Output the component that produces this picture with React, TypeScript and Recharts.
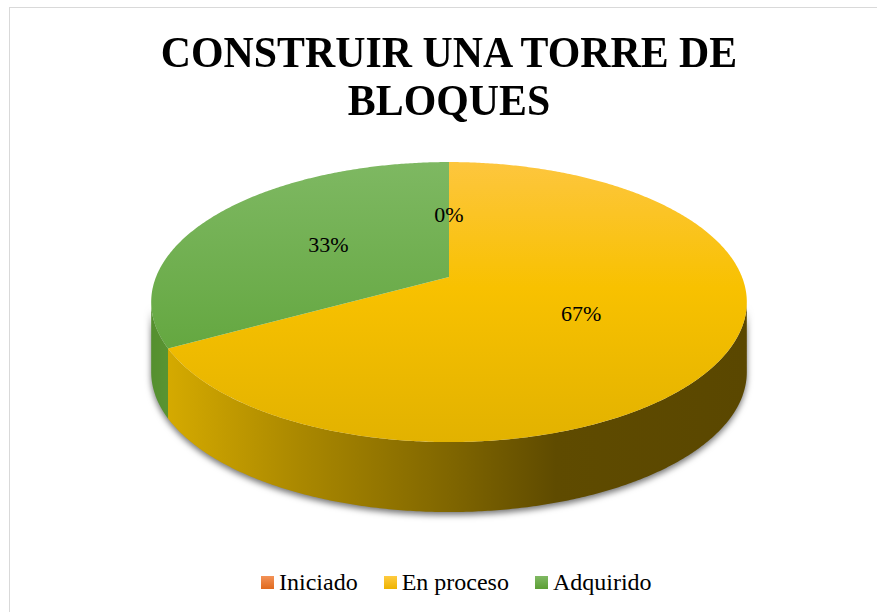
import React from 'react';
import { PieChart, Pie, Legend } from 'recharts';

// ---- data ----
const categories = ['Iniciado', 'En proceso', 'Adquirido'];
const values = [0, 67, 33];
const seriesColors = ['#ED7D31', '#FFC000', '#70AD47'];
const titleLines = ['CONSTRUIR UNA TORRE DE', 'BLOQUES'];

const data = categories.map((name, i) => ({ name, value: values[i], color: seriesColors[i] }));

// ---- geometry / style constants ----
const W = 877;
const H = 612;
const CX = 449;
const CY = 277;
const RX = 293;
const TILT = 0.4625;
const PERSP = 0.179;
const DEPTH = 70;
const SERIF = '"Liberation Serif", LiberationSerif, Tinos, "Times New Roman", Times, "DejaVu Serif", serif';

const topGrad = [
  ['#F3884A', '#E2691C'],
  ['#FDC63E', '#E2B200'],
  ['#7EB862', '#579F2E'],
];
const legendGrad = [
  ['#F39257', '#E06A1E'],
  ['#FFCB40', '#EDB300'],
  ['#80B963', '#5C9E35'],
];

function proj(cx: number, cy: number, rx: number, k: number, deg: number): [number, number] {
  const t = (deg * Math.PI) / 180;
  const u = k * Math.sin(t);
  const v = k * Math.cos(t);
  const d = 1 + PERSP * v;
  return [cx + (rx * u) / d, cy - (rx * TILT * v) / d];
}

function cwRange(startAngle: number, endAngle: number): [number, number] {
  const t1 = 90 - startAngle;
  const t2 = 90 - endAngle;
  return [Math.min(t1, t2), Math.max(t1, t2)];
}

function arcPoints(cx: number, cy: number, rx: number, a: number, b: number, dy = 0) {
  const steps = Math.max(2, Math.ceil((b - a) * 2));
  const pts: string[] = [];
  for (let i = 0; i <= steps; i++) {
    const p = proj(cx, cy, rx, 1, a + ((b - a) * i) / steps);
    pts.push(`${p[0].toFixed(2)},${(p[1] + dy).toFixed(2)}`);
  }
  return pts;
}

function TopShape(props: any) {
  const { cx, cy, outerRadius, startAngle, endAngle, index } = props;
  if (Math.abs(endAngle - startAngle) < 1e-6) return <g />;
  const [a, b] = cwRange(startAngle, endAngle);
  const pts = arcPoints(cx, cy, outerRadius, a, b);
  const d = `M${cx},${cy} L${pts.join(' L')} Z`;
  const yTop = cy - (outerRadius * TILT) / (1 + PERSP);
  const yBot = cy + (outerRadius * TILT) / (1 - PERSP);
  const id = `topg-${index}`;
  const g = topGrad[index % topGrad.length];
  return (
    <g>
      <defs>
        <linearGradient id={id} gradientUnits="userSpaceOnUse" x1={0} y1={yTop} x2={0} y2={yBot}>
          <stop offset="0" stopColor={g[0]} />
          <stop offset="0.45" stopColor={index === 1 ? '#F8C100' : '#6DAD4C'} />
          <stop offset="1" stopColor={g[1]} />
        </linearGradient>
      </defs>
      <path d={d} fill={`url(#${id})`} />
    </g>
  );
}

function WallShape(props: any) {
  const { cx, cy, outerRadius, startAngle, endAngle, index } = props;
  if (Math.abs(endAngle - startAngle) < 1e-6) return <g />;
  const [a, b] = cwRange(startAngle, endAngle);
  const s1 = (Math.acos(-PERSP) * 180) / Math.PI;
  const s2 = 360 - s1;
  const lo = Math.max(a, s1);
  const hi = Math.min(b, s2);
  if (hi <= lo) return <g />;
  const top = arcPoints(cx, cy, outerRadius, lo, hi);
  const bottom = arcPoints(cx, cy, outerRadius, lo, hi, DEPTH).reverse();
  const d = `M${top.join(' L')} L${bottom.join(' L')} Z`;
  const half = outerRadius / Math.sqrt(1 - PERSP * PERSP);
  const id = `wallg-${index}`;
  return (
    <g>
      <defs>
        {index === 1 ? (
          <linearGradient id={id} gradientUnits="userSpaceOnUse" x1={cx - half} y1={0} x2={cx + half} y2={0}>
            <stop offset="0" stopColor="#DAAE00" />
            <stop offset="0.25" stopColor="#AA8800" />
            <stop offset="0.5" stopColor="#806600" />
            <stop offset="0.68" stopColor="#5F4B00" />
            <stop offset="1" stopColor="#5A4700" />
          </linearGradient>
        ) : (
          <linearGradient id={id} gradientUnits="userSpaceOnUse" x1={cx - half} y1={0} x2={cx - half + 40} y2={0}>
            <stop offset="0" stopColor="#558F2F" />
            <stop offset="1" stopColor="#5E9B36" />
          </linearGradient>
        )}
      </defs>
      <path d={d} fill={`url(#${id})`} />
    </g>
  );
}

function NoShape() {
  return <g />;
}

function renderLabel(props: any) {
  const { cx, cy, outerRadius, midAngle, percent, index } = props;
  const [x, y] = proj(cx, cy, outerRadius, 0.5, 90 - midAngle);
  return (
    <text
      key={`lbl-${index}`}
      x={x}
      y={y}
      textAnchor="middle"
      dominantBaseline="central"
      style={{ fontFamily: SERIF }}
      fontSize={22}
      fill="#000"
    >
      {`${Math.round(percent * 100)}%`}
    </text>
  );
}

function renderLegend() {
  return (
    <div style={{ display: 'flex', alignItems: 'center', lineHeight: '26px', height: 26 }}>
      {categories.map((c, i) => (
        <div key={c} style={{ display: 'flex', alignItems: 'center', marginRight: i < categories.length - 1 ? 26 : 0 }}>
          <span
            style={{
              display: 'inline-block',
              width: 13,
              height: 13,
              background: `linear-gradient(to bottom, ${legendGrad[i][0]}, ${legendGrad[i][1]})`,
              marginRight: 5,
            }}
          />
          <span style={{ fontFamily: SERIF, fontSize: 24, color: '#000', whiteSpace: 'nowrap' }}>{c}</span>
        </div>
      ))}
    </div>
  );
}

export default function App() {
  return (
    <div
      style={{
        position: 'absolute',
        left: 0,
        top: 0,
        width: W,
        height: H,
        overflow: 'hidden',
        background: '#fff',
        fontFamily: SERIF,
      }}
    >
      <style>{`.pie-walls { filter: drop-shadow(0px 3px 3px rgba(0,0,0,0.55)); }`}</style>
      <div
        style={{
          position: 'absolute',
          left: 9,
          top: 7,
          width: 1000,
          height: 1000,
          border: '1.5px solid #D9D9D9',
          boxSizing: 'border-box',
        }}
      />
      <div
        style={{
          position: 'absolute',
          left: CX - 400,
          top: 29,
          width: 800,
          textAlign: 'center',
          fontFamily: SERIF,
          fontWeight: 'bold',
          fontSize: 45,
          lineHeight: '47.5px',
          color: '#000',
          transform: 'scaleX(0.93)',
          transformOrigin: 'center',
          zIndex: 2,
        }}
      >
        {titleLines.map((t) => (
          <div key={t}>{t}</div>
        ))}
      </div>
      <div style={{ position: 'absolute', left: 0, top: 0 }}>
        <PieChart width={W} height={H} margin={{ top: 0, right: 0, bottom: 0, left: 0 }}>
          <Pie
            className="pie-walls"
            data={data}
            dataKey="value"
            nameKey="name"
            cx={CX}
            cy={CY}
            outerRadius={RX}
            startAngle={90}
            endAngle={-270}
            isAnimationActive={false}
            legendType="none"
            shape={WallShape}
            label={false}
            stroke="none"
          />
          <Pie
            data={data}
            dataKey="value"
            nameKey="name"
            cx={CX}
            cy={CY}
            outerRadius={RX}
            startAngle={90}
            endAngle={-270}
            isAnimationActive={false}
            shape={TopShape}
            label={false}
            stroke="none"
          />
          <Pie
            data={data}
            dataKey="value"
            nameKey="name"
            cx={CX}
            cy={CY}
            outerRadius={RX}
            startAngle={90}
            endAngle={-270}
            isAnimationActive={false}
            legendType="none"
            shape={NoShape}
            fill="none"
            stroke="none"
            label={renderLabel}
            labelLine={false}
          />
          <Legend
            content={renderLegend}
            wrapperStyle={{ position: 'absolute', left: 261, top: 569, width: 'auto', bottom: 'auto', margin: 0 }}
          />
        </PieChart>
      </div>
    </div>
  );
}
